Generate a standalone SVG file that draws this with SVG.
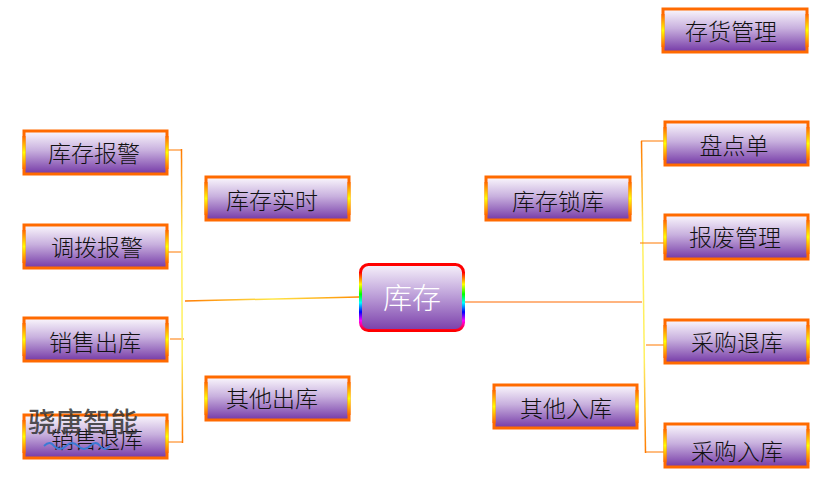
<svg xmlns="http://www.w3.org/2000/svg" width="815" height="479" viewBox="0 0 815 479">
<defs>
<linearGradient id="fill" x1="0" y1="0" x2="0" y2="1">
<stop offset="0" stop-color="#FBF8FD"/>
<stop offset="0.45" stop-color="#C8B0DE"/>
<stop offset="1" stop-color="#7438A6"/>
</linearGradient>
<linearGradient id="side" x1="0" y1="0" x2="0" y2="1">
<stop offset="0" stop-color="#FF6600"/>
<stop offset="0.5" stop-color="#FFFF00"/>
<stop offset="1" stop-color="#FF6600"/>
</linearGradient>
<linearGradient id="rainbow" x1="0" y1="0" x2="0" y2="1">
<stop offset="0" stop-color="#FF0000"/>
<stop offset="0.12" stop-color="#FF0000"/>
<stop offset="0.3" stop-color="#FFFF00"/>
<stop offset="0.45" stop-color="#00FF00"/>
<stop offset="0.58" stop-color="#00FFFF"/>
<stop offset="0.72" stop-color="#0000FF"/>
<stop offset="0.85" stop-color="#FF00FF"/>
<stop offset="1" stop-color="#FF0000"/>
</linearGradient>
<linearGradient id="cfill" x1="0" y1="0" x2="0" y2="1">
<stop offset="0" stop-color="#F7F2FB"/>
<stop offset="0.45" stop-color="#BFA3DA"/>
<stop offset="1" stop-color="#7A3EAA"/>
</linearGradient>
<linearGradient id="midline" x1="0" y1="0" x2="1" y2="0">
<stop offset="0" stop-color="#FF7A00"/>
<stop offset="0.5" stop-color="#FFE84A"/>
<stop offset="1" stop-color="#FF8C00"/>
</linearGradient>
<linearGradient id="vline" x1="0" y1="0" x2="0" y2="1">
<stop offset="0" stop-color="#FF7A00"/>
<stop offset="0.3" stop-color="#FFF060"/>
<stop offset="0.7" stop-color="#FFF060"/>
<stop offset="1" stop-color="#FF7A00"/>
</linearGradient>
</defs>
<style>
.box{fill:url(#fill);stroke:#FF6A00;stroke-width:3}
.sd{stroke:url(#side);stroke-width:3;fill:none}
.t{font-family:"Noto Sans CJK SC","Noto Sans CJK JP",sans-serif;font-size:23px;font-weight:300;fill:#111;text-anchor:middle;dominant-baseline:central}
.c{fill:none;stroke:#FF7A00;stroke-width:1.2}
</style>
<rect width="815" height="479" fill="#FFFFFF"/>
<g id="connectors">
<path class="c" d="M168,150 H181 M168,252 H181 M170,339 H184 M168,442 H182"/>
<line x1="181.5" y1="149" x2="182.5" y2="443" stroke="url(#vline)" stroke-width="1.5"/>
<line x1="185" y1="301" x2="359" y2="297" stroke="url(#midline)" stroke-width="1.5"/>
<line x1="465" y1="302" x2="642" y2="302" stroke="#FF6A00" stroke-width="1.2"/>
<line x1="641.5" y1="141" x2="645.5" y2="453" stroke="url(#vline)" stroke-width="1.5"/>
<path class="c" d="M641,141 H664 M640,243 H664 M646,345 H665 M645,452 H672"/>
</g>
<g id="n-cunhuo"><rect class="box" x="663" y="9" width="144" height="43"/><path class="sd" d="M663,14 V47 M807,14 V47"/><text class="t" x="731" y="30">存货管理</text></g>
<g id="n-kucunbaojing"><rect class="box" x="24" y="131" width="143" height="43"/><path class="sd" d="M24,136 V169 M167,136 V169"/><text class="t" x="94" y="152">库存报警</text></g>
<g id="n-diaobo"><rect class="box" x="24" y="225" width="143" height="43"/><path class="sd" d="M24,230 V263 M167,230 V263"/><text class="t" x="97" y="246">调拨报警</text></g>
<g id="n-xiaoshouchuku"><rect class="box" x="24" y="318" width="143" height="43"/><path class="sd" d="M24,323 V356 M167,323 V356"/><text class="t" x="95" y="341">销售出库</text></g>
<g id="n-xiaoshoutuiku"><rect class="box" x="24" y="415" width="143" height="43"/><path class="sd" d="M24,420 V453 M167,420 V453"/><text class="t" x="97" y="438">销售退库</text></g>
<g id="n-shishi"><rect class="box" x="206" y="177" width="143" height="43"/><path class="sd" d="M206,182 V215 M349,182 V215"/><text class="t" x="272" y="199">库存实时</text></g>
<g id="n-qitachuku"><rect class="box" x="206" y="377" width="143" height="43"/><path class="sd" d="M206,382 V415 M349,382 V415"/><text class="t" x="272" y="397">其他出库</text></g>
<g id="n-suoku"><rect class="box" x="486" y="177" width="144" height="43"/><path class="sd" d="M486,182 V215 M630,182 V215"/><text class="t" x="558" y="200">库存锁库</text></g>
<g id="n-qitaruku"><rect class="box" x="494" y="385" width="143" height="43"/><path class="sd" d="M494,390 V423 M637,390 V423"/><text class="t" x="566" y="407">其他入库</text></g>
<g id="n-pandian"><rect class="box" x="665" y="122" width="143" height="43"/><path class="sd" d="M665,127 V160 M808,127 V160"/><text class="t" x="734" y="144">盘点单</text></g>
<g id="n-baofei"><rect class="box" x="665" y="215" width="143" height="44"/><path class="sd" d="M665,220 V254 M808,220 V254"/><text class="t" x="735" y="236">报废管理</text></g>
<g id="n-caigoutuiku"><rect class="box" x="665" y="320" width="143" height="43"/><path class="sd" d="M665,325 V358 M808,325 V358"/><text class="t" x="737" y="341">采购退库</text></g>
<g id="n-caigouruku"><rect class="box" x="665" y="424" width="143" height="43"/><path class="sd" d="M665,429 V462 M808,429 V462"/><text class="t" x="737" y="450">采购入库</text></g>
<g id="n-kucun"><rect x="360.5" y="264.5" width="103" height="66" rx="8" fill="url(#cfill)" stroke="url(#rainbow)" stroke-width="3"/><text x="412" y="296" font-family="'Noto Sans CJK SC',sans-serif" font-size="29" font-weight="300" fill="#FFFFFF" text-anchor="middle" dominant-baseline="central">库存</text></g>
<g id="watermark">
<text x="28" y="432" font-family="'Noto Sans CJK SC',sans-serif" font-size="27.5" font-weight="500" fill="#333" fill-opacity="0.85">骁唐智能</text>
<path d="M44,446 q6,-6 10,0 q6,6 12,0 q6,-6 12,0 q6,6 12,0 q6,-6 10,0 q5,6 10,0" fill="none" stroke="#3A7BD5" stroke-width="1.8"/>
</g>
</svg>
